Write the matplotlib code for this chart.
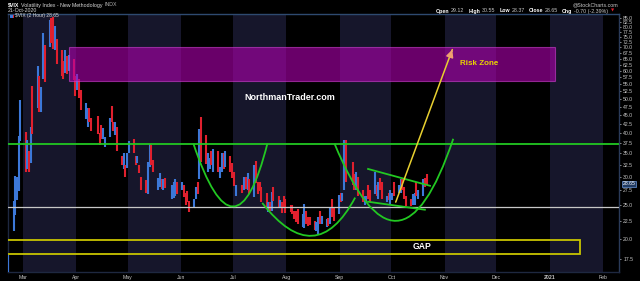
import matplotlib
matplotlib.use('Agg')
import matplotlib.pyplot as plt
import matplotlib.dates as mdates
from matplotlib.path import Path
from matplotlib.patches import PathPatch, Rectangle
from matplotlib.ticker import FixedLocator, FormatStrFormatter, NullLocator
import numpy as np
import pandas as pd

plt.rcParams['font.family'] = ['Liberation Sans', 'DejaVu Sans']

# trading days, Feb 21 - Oct 21 2020
holidays = ['2020-04-10', '2020-05-25', '2020-07-03', '2020-09-07']
days = pd.bdate_range('2020-02-21', '2020-10-21')
days = days[~days.isin(pd.to_datetime(holidays))]

# daily open / high / low / close
opens = [15.6, 22.0, 25.0, 27.4, 28.6, 40.0,  # Feb
         39.0, 33.0, 35.4, 34.0, 46.0, 53.0, 50.0, 48.0, 61.0, 66.0, 74.0, 78.0, 80.0, 72.0, 70.0, 67.0, 63.0, 60.0, 62.0, 63.0, 64.0, 55.0,
         56.0, 56.0, 51.0, 44.5, 42.0, 46.0, 42.0, 42.0, 39.0, 41.0, 39.5, 37.0, 40.0, 46.0, 42.0, 41.0, 41.0, 34.0, 33.0, 32.0, 32.5,
         35.5, 37.5, 34.0, 33.0, 32.0, 29.5, 28.5, 27.0, 33.0, 35.0, 32.0, 29.0, 28.5, 29.0, 28.0, 29.0, 27.0, 28.0, 27.0, 28.0,
         28.0, 28.0, 26.5, 26.0, 25.0, 25.5, 26.5, 28.0, 30.0, 38.0, 38.0, 31.0, 32.0, 34.0, 32.0, 34.0, 30.5, 31.5, 34.0, 33.0, 34.0, 32.0,
         30.0, 27.0, 28.0, 28.0, 29.0, 29.0, 29.0, 27.5, 32.0, 28.0, 28.5, 27.5, 26.0, 24.0, 25.0, 24.5, 27.0, 25.5, 25.0, 25.0, 25.5, 25.0,
         24.5, 24.5, 23.5, 23.5, 23.0, 22.0, 21.8, 23.5, 22.5, 22.5, 22.0, 21.5, 21.0, 23.0, 22.5, 22.0, 22.5, 22.5, 24.5, 24.0, 24.0,
         26.5, 26.5, 28.0, 33.5, 32.0, 30.0, 28.5, 29.5, 27.0, 25.5, 25.5, 27.0, 26.0, 27.0, 28.0, 27.0, 29.0, 28.5, 26.0, 26.5, 26.0,
         26.5, 28.5, 27.5, 28.0, 29.5, 27.5, 26.0, 25.5, 25.5, 26.0, 28.0, 26.5, 27.0, 29.5, 29.12]
highs = [18.0, 25.6, 30.2, 30.0, 39.2, 49.5,
         40.2, 38.2, 35.6, 41.5, 54.4, 62.1, 57.9, 54.0, 76.8, 71.0, 83.6, 84.8, 85.5, 80.7, 74.0, 68.6, 64.0, 69.0, 66.0, 66.8, 64.8, 58.0,
         58.8, 57.0, 53.0, 48.5, 47.0, 47.0, 44.0, 44.6, 40.0, 42.0, 41.3, 39.0, 44.0, 47.7, 43.0, 43.0, 41.5, 34.3, 35.0, 32.5, 35.0,
         38.0, 38.5, 34.5, 34.5, 32.5, 29.9, 29.3, 33.1, 37.1, 37.0, 33.6, 29.8, 30.7, 29.5, 29.6, 29.7, 28.5, 29.0, 29.5, 29.0,
         29.0, 28.5, 27.0, 27.4, 25.6, 26.0, 28.0, 29.0, 41.0, 44.4, 39.5, 35.0, 34.0, 35.5, 36.0, 35.5, 32.0, 35.0, 35.0, 35.5, 34.5, 32.8,
         31.0, 28.5, 28.5, 30.0, 30.0, 30.8, 29.5, 32.5, 33.2, 29.0, 29.0, 28.0, 27.0, 25.5, 25.5, 27.2, 28.0, 26.5, 25.8, 25.5, 26.5, 26.0,
         25.0, 25.0, 24.0, 24.0, 24.3, 23.5, 25.1, 24.0, 23.0, 23.0, 22.5, 22.3, 23.0, 24.0, 23.2, 22.8, 22.9, 24.6, 26.0, 24.5, 26.6,
         27.0, 27.0, 38.3, 38.3, 33.0, 30.5, 31.0, 30.0, 27.5, 26.5, 26.5, 28.5, 27.5, 31.0, 28.5, 29.0, 29.8, 29.0, 26.5, 27.0, 27.5,
         27.0, 29.0, 28.5, 29.5, 29.6, 28.0, 26.5, 26.0, 26.8, 27.0, 29.0, 27.5, 29.5, 29.8, 30.55]
lows = [15.3, 21.0, 23.4, 25.8, 27.4, 38.0,
        31.0, 31.5, 31.0, 32.9, 39.8, 47.0, 46.0, 46.0, 57.0, 56.0, 70.0, 72.0, 69.4, 68.6, 62.9, 58.1, 56.8, 59.3, 59.0, 59.8, 56.7, 50.9,
        53.0, 50.3, 46.5, 43.8, 41.6, 43.0, 40.5, 39.8, 37.0, 38.5, 38.5, 36.5, 39.0, 43.0, 40.5, 39.5, 35.6, 32.5, 31.5, 29.9, 31.8,
        35.0, 35.0, 32.5, 32.8, 30.8, 27.6, 27.0, 26.8, 32.0, 32.5, 31.0, 27.6, 28.0, 27.8, 27.5, 27.9, 26.0, 26.2, 26.5, 26.9,
        27.5, 26.3, 24.9, 25.5, 23.9, 24.7, 26.0, 26.8, 29.6, 33.0, 32.6, 31.0, 31.5, 32.5, 31.0, 31.0, 29.8, 31.0, 31.5, 32.0, 31.0, 29.8,
        28.2, 26.5, 27.0, 27.5, 27.8, 27.5, 26.8, 26.3, 28.8, 26.8, 27.3, 25.5, 24.4, 23.9, 24.0, 24.0, 25.6, 24.6, 24.5, 23.7, 24.5, 23.7,
        23.9, 23.6, 22.8, 22.3, 22.0, 21.6, 21.5, 22.0, 21.7, 21.9, 21.2, 21.0, 20.7, 22.0, 22.0, 21.6, 21.8, 22.0, 23.0, 22.5, 23.5,
        25.5, 25.7, 27.5, 29.0, 28.5, 27.5, 27.5, 26.5, 25.5, 25.0, 25.3, 26.0, 25.5, 26.8, 26.5, 26.0, 27.5, 26.0, 25.5, 25.8, 25.0,
        25.8, 26.5, 27.0, 27.0, 27.5, 26.0, 24.8, 24.8, 25.0, 25.0, 26.5, 26.0, 26.5, 28.0, 28.37]
closes = [17.08, 25.03, 27.85, 27.56, 39.16, 40.11,
          33.42, 36.82, 31.99, 39.62, 41.94, 54.46, 47.30, 53.90, 75.47, 57.83, 82.69, 75.91, 76.45, 72.00, 66.04, 61.59, 61.67, 63.95, 61.00, 65.54, 57.08, 53.54,
          57.06, 50.91, 46.80, 45.24, 46.70, 43.35, 41.67, 41.17, 37.76, 40.84, 40.11, 38.15, 43.83, 45.41, 41.98, 41.38, 35.93, 33.29, 33.57, 31.23, 34.15,
          37.19, 35.97, 33.61, 34.12, 31.44, 27.98, 27.57, 33.04, 35.28, 32.61, 31.89, 29.30, 30.53, 27.99, 28.16, 28.16, 27.91, 28.59, 28.59, 27.51,
          28.23, 26.84, 25.66, 25.81, 24.52, 25.81, 27.57, 27.57, 40.79, 36.09, 34.40, 33.67, 33.47, 32.94, 35.12, 31.77, 31.37, 33.84, 32.22, 34.73, 31.78, 30.43,
          28.62, 27.68, 27.94, 29.43, 28.08, 29.26, 27.29, 32.19, 29.52, 27.76, 28.00, 25.68, 24.46, 24.84, 24.32, 26.08, 25.84, 24.74, 25.44, 24.10, 24.76, 24.46,
          24.28, 23.76, 23.00, 22.65, 22.21, 22.13, 24.03, 22.28, 22.13, 22.05, 21.35, 21.51, 22.54, 22.72, 22.54, 22.37, 22.03, 24.47, 24.47, 22.96, 26.41,
          26.12, 26.57, 33.60, 30.75, 31.46, 28.81, 29.71, 26.87, 25.85, 25.59, 26.04, 26.46, 25.83, 27.78, 26.86, 28.58, 28.51, 26.38, 26.19, 26.27, 26.37,
          26.70, 27.63, 27.96, 29.48, 28.06, 26.36, 25.00, 25.07, 26.07, 26.40, 26.97, 27.41, 29.18, 29.35, 28.65]

month_starts = pd.date_range('2020-03-01', '2021-02-01', freq='MS')
month_labels = ['Mar', 'Apr', 'May', 'Jun', 'Jul', 'Aug', 'Sep', 'Oct', 'Nov', 'Dec', '2021', 'Feb']
price_ticks = np.arange(17.5, 85.1, 2.5)
last_close = 28.65

# hand-drawn annotations (date, value)
resistance = 37.3
support = 24.7
arcs = [[('2020-06-08', 37.3), ('2020-07-01', 24.7), ('2020-07-21', 37.3)],
        [('2020-07-18', 25.3), ('2020-08-16', 20.4), ('2020-09-10', 26.2)],
        [('2020-08-29', 37.3), ('2020-10-04', 22.5), ('2020-11-06', 38.5)]]
wedge = [[('2020-09-17 12:00', 31.6), ('2020-10-23 12:00', 28.3)],
         [('2020-09-17 12:00', 25.5), ('2020-10-20 12:00', 24.2)]]
arrow = [('2020-10-03', 25.0), ('2020-11-06', 70.2)]
risk_box = ('2020-03-28', '2021-01-04', 56.2, 70.0)
gap_box = ('2020-02-20 18:00', '2021-01-18 12:00', 18.1, 19.8)

assert len(days) == len(opens) == len(highs) == len(lows) == len(closes)

def dn(s):
    return mdates.date2num(pd.Timestamp(s))

green = '#22c822'
W, H = 640, 281
fig = plt.figure(figsize=(6.4, 2.81), dpi=100, facecolor='black')
ax = fig.add_axes([8 / W, 9 / H, 611 / W, 258 / H])
ax.set_facecolor('black')
ax.set_yscale('log')
ax.set_ylim(16.1, 87.1)
ax.set_xlim(dn('2020-03-01') - 8.72, dn('2021-02-01') + 9.3)

# alternating month bands
for i in range(0, len(month_starts), 2):
    end = month_starts[i] + pd.offsets.MonthBegin(1)
    ax.axvspan(dn(month_starts[i]), dn(end), color='#16162b', lw=0, zorder=0)

# price bars
xs = mdates.date2num(days) + 0.5
cols = ['#3c78d8' if c >= o else '#e0202e' for o, c in zip(opens, closes)]
ax.vlines(xs, lows, highs, colors=cols, lw=1.5, zorder=3)

# lines and boxes
ax.axhline(resistance, color=green, lw=1.3, zorder=4)
ax.axhline(support, color='#c8c8c8', lw=0.9, zorder=4)
ax.add_patch(Rectangle((dn(risk_box[0]), risk_box[2]), dn(risk_box[1]) - dn(risk_box[0]),
                       risk_box[3] - risk_box[2], fc='#b000b0', alpha=0.6, ec='#d040d0', lw=0.8, zorder=4))
ax.add_patch(Rectangle((dn(gap_box[0]), gap_box[2]), dn(gap_box[1]) - dn(gap_box[0]),
                       gap_box[3] - gap_box[2], fill=False, ec='#c8c400', lw=1.3, zorder=4))

for p0, pb, p2 in arcs:
    x0, xb, x2 = dn(p0[0]), dn(pb[0]), dn(p2[0])
    cx = 2 * xb - 0.5 * (x0 + x2)
    cy = pb[1] ** 2 / np.sqrt(p0[1] * p2[1])
    path = Path([(x0, p0[1]), (cx, cy), (x2, p2[1])], [Path.MOVETO, Path.CURVE3, Path.CURVE3])
    ax.add_patch(PathPatch(path, fill=False, ec=green, lw=1.3, zorder=5))

for a, b in wedge:
    ax.plot([dn(a[0]), dn(b[0])], [a[1], b[1]], color=green, lw=1.3, zorder=5)

ax.annotate('', xy=(dn(arrow[1][0]), arrow[1][1]), xytext=(dn(arrow[0][0]), arrow[0][1]),
            arrowprops=dict(arrowstyle='-', color='#e8d030', lw=1.1), zorder=6)
ax.annotate('', xy=(dn(arrow[1][0]), arrow[1][1]), xytext=(-2.5, -7), textcoords='offset pixels',
            arrowprops=dict(arrowstyle='-|>,head_length=0.45,head_width=0.22', color='#f0a070', lw=1.0), zorder=6)

ax.text(dn('2020-11-21'), 63, 'Risk Zone', color='#e8d400', fontsize=5.8, fontweight='bold',
        ha='center', va='center', zorder=7)
ax.text(dn('2020-10-19'), 19.0, 'GAP', color='white', fontsize=6.2, fontweight='bold',
        ha='center', va='center', zorder=7)

# axes
ax.yaxis.tick_right()
ax.yaxis.set_major_locator(FixedLocator(price_ticks))
ax.yaxis.set_major_formatter(FormatStrFormatter('%.1f'))
ax.yaxis.set_minor_locator(NullLocator())
ax.set_xticks(mdates.date2num(month_starts))
ax.set_xticklabels(month_labels)
ax.get_xticklabels()[10].set_fontweight('bold')
ax.tick_params(axis='y', labelsize=3.7, colors='#c8c8c8', length=1.5, width=0.5, pad=1.5)
ax.tick_params(axis='x', labelsize=3.7, colors='#c8c8c8', length=0, pad=2)
for side in ['left', 'bottom']:
    ax.spines[side].set_color('#1e2840')
ax.spines['right'].set_color('#2a3a58')
ax.spines['top'].set_color('#2e4a70')
for s in ax.spines.values():
    s.set_linewidth(1.0)

ax.text(1.006, np.log10(last_close / 16.1) / np.log10(87.1 / 16.1), '%.2f' % last_close,
        transform=ax.transAxes, fontsize=3.7, color='white', ha='left', va='center',
        bbox=dict(boxstyle='square,pad=0.15', fc='#203a62', ec='#6a96d8', lw=0.5), zorder=8)

# watermark and header
def px(x, y):
    return x / W, 1 - y / H

fig.text(*px(290, 97), 'NorthmanTrader.com', color='white', fontsize=6.5, fontweight='bold',
         ha='center', va='center')

renderer = fig.canvas.get_renderer()

def row(x, y, pieces, size=3.8):
    for s, w, c, gap in pieces:
        t = fig.text(*px(x, y), s, fontsize=size, fontweight=w, color=c, ha='left', va='center')
        x += t.get_window_extent(renderer).width + gap
    return x

row(8, 5, [('$VIX', 'bold', 'white', 2), ('Volatility Index - New Methodology', 'normal', '#d8d8d8', 2),
           ('INDX', 'normal', '#b0b0b0', 0)])
row(8, 11, [('21-Oct-2020', 'normal', '#d8d8d8', 0)])
fig.patches.append(Rectangle(px(10, 18), 4 / W, 3 / H, transform=fig.transFigure, fc='#3c78d8', ec='none'))
fig.patches.append(Rectangle(px(13, 18), 1 / W, 3 / H, transform=fig.transFigure, fc='#e0202e', ec='none'))
row(15, 16, [('$VIX (2 Hour) 28.65', 'normal', '#d8d8d8', 0)], size=3.5)

fig.text(*px(618, 5), '@StockCharts.com', fontsize=3.8, color='#c8c8c8', ha='right', va='center')
hdr = []
for lab, val in [('Open', '29.12'), ('High', '30.55'), ('Low', '28.37'), ('Close', '28.65'), ('Chg', '-0.70 (-2.39%)')]:
    hdr.append((lab, 'bold', 'white', 1.5))
    hdr.append((val, 'normal', '#c8c8c8', 4))
end = row(436, 11, hdr)
fig.text(*px(end - 1, 11), '\u25bc', fontsize=3.0, color='#e0202e', ha='left', va='center',
         family=['DejaVu Sans'])

fig.savefig('out.png', dpi=100, facecolor='black')
